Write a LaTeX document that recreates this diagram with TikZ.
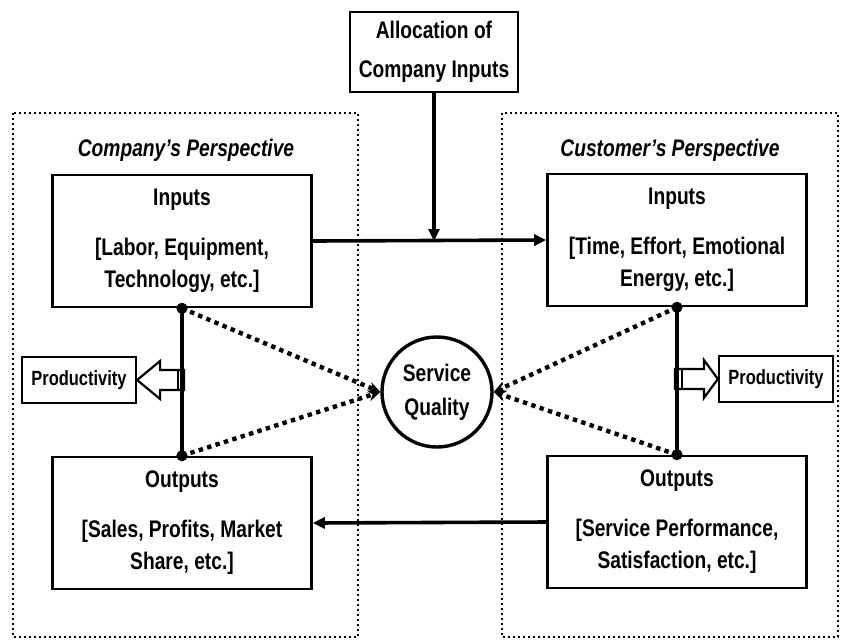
\documentclass[tikz,border=0pt]{standalone}
\usepackage{fontspec}
\setmainfont{Liberation Sans}[FakeStretch=0.8]
\usetikzlibrary{arrows.meta,positioning,calc}

\begin{document}
\begin{tikzpicture}[x=0.5pt, y=-0.5pt,
    box/.style={rectangle, draw, line width=1.3pt, minimum width=129.5pt, minimum height=66pt, align=center, font=\fontsize{12}{16}\selectfont\bfseries},
    frame/.style={draw, line width=1.1pt, dash pattern=on 1.1pt off 1.4pt},
    prod/.style={rectangle, draw, line width=1.1pt, minimum width=57pt, minimum height=23pt, inner sep=1pt, font=\fontsize{10.3}{12}\selectfont\bfseries},
    arrow/.style={-{Triangle[length=6pt, width=5.5pt]}, line width=1.8pt},
    dotarrow/.style={-{Stealth[length=6pt, width=5.5pt]}, line width=2.2pt, dash pattern=on 2.2pt off 2.2pt},
    hollow/.style={draw, fill=white, line width=1.1pt, line join=miter},
    title/.style={font=\fontsize{12}{14}\selectfont\bfseries\itshape}
]
\useasboundingbox (0,0) rectangle (841,639);
% the two perspectives
\draw[frame] (13,113) rectangle (358,637);
\draw[frame] (502,113) rectangle (838,637);
\node[title] (tCom) at (186,150) {Company's Perspective};
\node[title] (tCus) at (670,150) {Customer's Perspective};
% boxes
\node[box, minimum width=84pt, minimum height=40pt, font=\fontsize{12}{19.5}\selectfont\bfseries] (alloc) at (434,52) {Allocation of\\Company Inputs};
\node[box] (inL) at (182,241) {Inputs\\[9pt]{[}Labor, Equipment,\\Technology, etc.]};
\node[box] (inR) at (677,240) {Inputs\\[9pt]{[}Time, Effort, Emotional\\Energy, etc.]};
\node[box] (outL) at (182,523) {Outputs\\[9pt]{[}Sales, Profits, Market\\Share, etc.]};
\node[box] (outR) at (677,522) {Outputs\\[9pt]{[}Service Performance,\\Satisfaction, etc.]};
\node[circle, draw, line width=1.7pt, minimum size=55pt, inner sep=0pt, align=center, font=\fontsize{12}{17}\selectfont\bfseries] (sq) at (437,392) {Service\\Quality};
\node[prod] (prodL) at (79,380) {Productivity};
\node[prod] (prodR) at (776,379) {Productivity};
% hollow arrows
\draw[hollow] (prodL.east) -- ++(23,-19) -- ++(0,9) -- ++(24,0) -- ++(0,20) -- ++(-24,0) -- ++(0,9) -- cycle;
\draw[line width=1pt] ($(prodL.east)+(41,-10)$) -- ++(0,20);
\draw[hollow] (prodR.west) -- ++(-14,-19) -- ++(0,9) -- ++(-29,0) -- ++(0,20) -- ++(29,0) -- ++(0,9) -- cycle;
\draw[line width=1pt] ($(prodR.west)+(-36,-10)$) -- ++(0,20);
% connectors
\draw[arrow] (inL.east) -- (inR.west);
\draw[arrow] (alloc.south) -- (alloc.south |- inL.east);
\draw[arrow] (outR.west) -- (outL.east);
\draw[line width=2pt] (inL.south) -- (outL.north);
\draw[line width=2pt] (inR.south) -- (outR.north);
\foreach \p in {inL.south, outL.north, inR.south, outR.north} {\fill (\p) circle (2.8pt);}
\draw[dotarrow] (inL.south) -- (sq.west);
\draw[dotarrow] (outL.north) -- (sq.west);
\draw[dotarrow] (inR.south) -- (sq.east);
\draw[dotarrow] (outR.north) -- (sq.east);
\end{tikzpicture}
\end{document}
